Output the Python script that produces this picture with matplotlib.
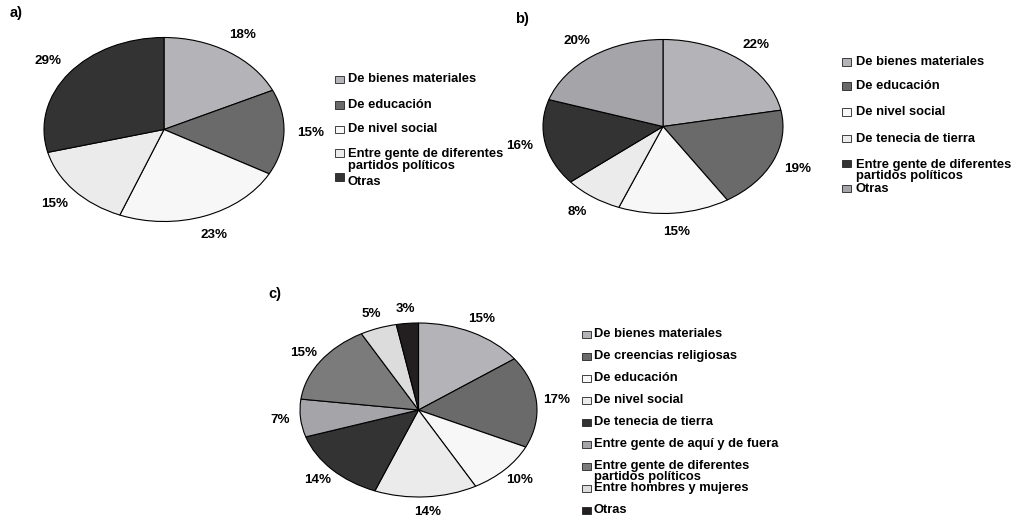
import matplotlib
matplotlib.use('Agg')
from matplotlib import pyplot as plt
from matplotlib.patches import Rectangle

plt.rcParams['font.family'] = ['Liberation Sans', 'DejaVu Sans']
plt.rcParams['font.weight'] = 'bold'

W, H = 1016, 521

# a) 
a_labels = ['De bienes materiales', 'De educación', 'De nivel social',
            'Entre gente de diferentes\npartidos políticos', 'Otras']
a_values = [18, 15, 23, 15, 29]
a_colors = ['#b4b4b8', '#6a6a6a', '#f7f7f7', '#ebebeb', '#333333']

# b)
b_labels = ['De bienes materiales', 'De educación', 'De nivel social',
            'De tenecia de tierra', 'Entre gente de diferentes\npartidos políticos', 'Otras']
b_values = [22, 19, 15, 8, 16, 20]
b_colors = ['#b4b4b8', '#6a6a6a', '#f7f7f7', '#ebebeb', '#333333', '#a5a5a9']

# c)
c_labels = ['De bienes materiales', 'De creencias religiosas', 'De educación',
            'De nivel social', 'De tenecia de tierra', 'Entre gente de aquí y de fuera',
            'Entre gente de diferentes\npartidos políticos', 'Entre hombres y mujeres', 'Otras']
c_values = [15, 17, 10, 14, 14, 7, 15, 5, 3]
c_colors = ['#b4b4b8', '#6a6a6a', '#f7f7f7', '#ebebeb', '#333333', '#a5a5a9',
            '#7b7b7b', '#dcdcdc', '#231f20']

fig = plt.figure(figsize=(W / 100, H / 100), dpi=100)


def pie_axes(cx, cy, rx, ry):
    # axes box = bounding box of the (elliptic) pie, in pixels
    ax = fig.add_axes([(cx - rx) / W, 1 - (cy + ry) / H, 2 * rx / W, 2 * ry / H])
    return ax


def draw_pie(ax, values, colors, dist=1.2):
    ax.pie(values, colors=colors, startangle=90, counterclock=False,
           autopct='%1.0f%%', pctdistance=dist, radius=1,
           wedgeprops={'edgecolor': 'black', 'linewidth': 0.8},
           textprops={'fontsize': 9.6, 'fontweight': 'bold', 'color': 'black'})
    ax.set_aspect('auto')
    ax.set_xlim(-1, 1)
    ax.set_ylim(-1, 1)
    ax.axis('off')


def draw_legend(labels, colors, mx, tx, ys, marker_ys):
    for lab, col, y, my in zip(labels, colors, ys, marker_ys):
        fig.patches.append(Rectangle(((mx) / W, 1 - (my + 3.5) / H), 9 / W, 7 / H,
                                     transform=fig.transFigure, facecolor=col,
                                     edgecolor='#222222', linewidth=0.6))
        fig.text(tx / W, 1 - y / H, lab, fontsize=9.3, fontweight='bold',
                 va='center', ha='left', linespacing=0.95, color='black')


ax_a = pie_axes(164, 129.5, 120, 92)
draw_pie(ax_a, a_values, a_colors, 1.22)
draw_legend(a_labels, a_colors, 335, 348,
            [79, 105, 129, 160, 182], [79, 105, 129, 153, 177])

ax_b = pie_axes(663, 126.5, 120, 87)
draw_pie(ax_b, b_values, b_colors, 1.22)
draw_legend(b_labels, b_colors, 842, 856,
            [62, 86, 112, 139, 170.5, 189], [62, 86, 112, 139, 164, 189])

ax_c = pie_axes(418.5, 410, 118.5, 87)
draw_pie(ax_c, c_values, c_colors, 1.17)
draw_legend(c_labels, c_colors, 582, 594,
            [334, 356, 378, 400, 422, 444, 471.5, 488, 510],
            [334, 356, 378, 400, 422, 444, 466, 488, 510])

fig.text(10 / W, 1 - 13 / H, 'a)', fontsize=10.5, fontweight='bold', va='center')
fig.text(515 / W, 1 - 19 / H, 'b)', fontsize=10.5, fontweight='bold', va='center')
fig.text(268 / W, 1 - 294 / H, 'c)', fontsize=10.5, fontweight='bold', va='center')

fig.savefig('out.png', dpi=100)
